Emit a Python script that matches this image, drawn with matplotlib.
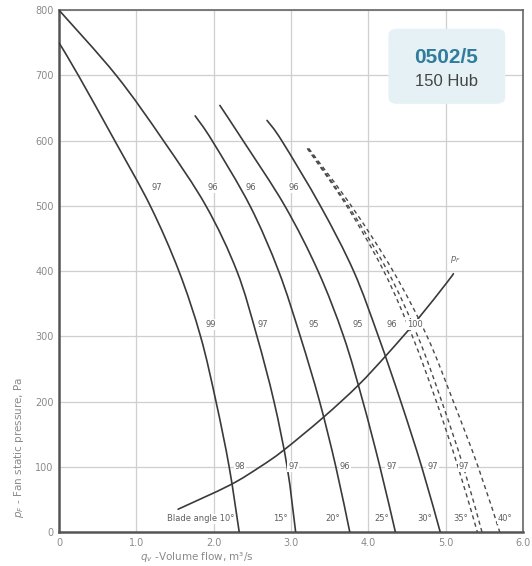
import matplotlib
matplotlib.use("Agg")
import matplotlib.pyplot as plt
from matplotlib.patches import FancyBboxPatch, PathPatch
from matplotlib.path import Path

# ---- data ----
curve_10_q = [0.0, 0.25, 0.72, 1.18, 1.55, 1.83, 2.03, 2.20, 2.33]
curve_10_p = [750, 700, 600, 500, 400, 300, 200, 100, 0]

curve_15_q = [0.0, 0.74, 1.35, 1.90, 2.30, 2.56, 2.78, 2.95, 3.06]
curve_15_p = [800, 700, 600, 500, 400, 300, 200, 100, 0]

curve_20_q = [1.76, 1.98, 2.47, 2.84, 3.12, 3.37, 3.58, 3.76]
curve_20_p = [638, 600, 500, 400, 300, 200, 100, 0]

curve_25_q = [2.08, 2.38, 2.92, 3.35, 3.68, 3.93, 4.15, 4.35]
curve_25_p = [654, 600, 500, 400, 300, 200, 100, 0]

curve_30_q = [2.69, 2.88, 3.38, 3.81, 4.13, 4.42, 4.69, 4.93]
curve_30_p = [631, 600, 500, 400, 300, 200, 100, 0]

dash_a_q = [3.21, 3.72, 4.20, 4.57, 4.88, 5.16, 5.41]
dash_b_q = [3.22, 3.74, 4.25, 4.64, 4.95, 5.23, 5.47]
dash_c_q = [3.23, 3.78, 4.32, 4.76, 5.10, 5.42, 5.70]
dash_p = [588, 500, 400, 300, 200, 100, 0]

pf_q = [1.54, 2.21, 2.60, 2.90, 3.42, 3.87, 4.24, 4.63, 5.02, 5.10]
pf_p = [35, 72, 100, 125, 176, 225, 272, 325, 383, 396]

top_labels = ["97", "96", "96", "96"]
top_q = [1.27, 1.99, 2.48, 3.03]
top_p = 528

mid_labels = ["99", "97", "95", "95", "96", "100"]
mid_q = [1.96, 2.64, 3.29, 3.86, 4.31, 4.60]
mid_p = 318

low_labels = ["98", "97", "96", "97", "97", "97"]
low_q = [2.34, 3.03, 3.70, 4.30, 4.83, 5.24]
low_p = 100

angle_labels = ["15°", "20°", "25°", "30°", "35°", "40°"]
angle_q = [2.86, 3.54, 4.17, 4.73, 5.20, 5.77]
angle_p = 20

xticks = [0, 1, 2, 3, 4, 5, 6]
xtick_labels = ["0", "1.0", "2.0", "3.0", "4.0", "5.0", "6.0"]
yticks = [0, 100, 200, 300, 400, 500, 600, 700, 800]


def smooth_path(xs, ys):
    """Smooth Bezier path passing through the given points (Catmull-Rom)."""
    pts = list(zip(xs, ys))
    n = len(pts)
    verts = [pts[0]]
    codes = [Path.MOVETO]
    for i in range(n - 1):
        p0 = pts[i - 1] if i > 0 else pts[i]
        p1 = pts[i]
        p2 = pts[i + 1]
        p3 = pts[i + 2] if i + 2 < n else pts[i + 1]
        c1 = (p1[0] + (p2[0] - p0[0]) / 6.0, p1[1] + (p2[1] - p0[1]) / 6.0)
        c2 = (p2[0] - (p3[0] - p1[0]) / 6.0, p2[1] - (p3[1] - p1[1]) / 6.0)
        verts += [c1, c2, p2]
        codes += [Path.CURVE4] * 3
    return Path(verts, codes)


# ---- figure ----
fig = plt.figure(figsize=(5.32, 5.66), dpi=100)
ax = fig.add_axes([0.111, 0.060, 0.872, 0.922])
ax.set_xlim(0, 6)
ax.set_ylim(0, 800)

ax.set_xticks(xticks)
ax.set_xticklabels(xtick_labels)
ax.set_yticks(yticks)
ax.tick_params(length=0, labelsize=7, colors="#8a8a8a", pad=4)
ax.grid(True, color="#cfcfcf", lw=0.9)
ax.set_axisbelow(True)

for side in ["left", "bottom"]:
    ax.spines[side].set_linewidth(1.8)
    ax.spines[side].set_color("#555555")
for side in ["top", "right"]:
    ax.spines[side].set_linewidth(1.2)
    ax.spines[side].set_color("#666666")

lc = "#3a3a3a"
for q, p in [(curve_10_q, curve_10_p), (curve_15_q, curve_15_p),
             (curve_20_q, curve_20_p), (curve_25_q, curve_25_p),
             (curve_30_q, curve_30_p), (pf_q, pf_p)]:
    ax.add_patch(PathPatch(smooth_path(q, p), fill=False, ec=lc, lw=1.2,
                           capstyle="round", zorder=3))

for q in [dash_a_q, dash_b_q, dash_c_q]:
    ax.add_patch(PathPatch(smooth_path(q, dash_p), fill=False, ec="#4a4a4a", lw=1.0,
                           ls=(0, (3, 2.5)), zorder=3))

ax.text(5.12, 418, "$p_F$", fontsize=6, color="#666666", ha="center", va="center")

tc = "#606060"
box = dict(boxstyle="square,pad=0.1", fc="white", ec="none")
for lab, q in zip(top_labels, top_q):
    ax.text(q, top_p, lab, fontsize=6, color=tc, ha="center", va="center", bbox=box, zorder=4)
for lab, q in zip(mid_labels, mid_q):
    ax.text(q, mid_p, lab, fontsize=6, color=tc, ha="center", va="center", bbox=box, zorder=4)
for lab, q in zip(low_labels, low_q):
    ax.text(q, low_p, lab, fontsize=6, color=tc, ha="center", va="center", bbox=box, zorder=4)
ax.text(2.27, angle_p, "Blade angle 10°", fontsize=6, color=tc, ha="right", va="center",
        bbox=box, zorder=4)
for lab, q in zip(angle_labels, angle_q):
    ax.text(q, angle_p, lab, fontsize=6, color=tc, ha="center", va="center", bbox=box, zorder=4)

# model box
badge = FancyBboxPatch((4.28, 658), 1.47, 112, boxstyle="round,pad=0.02,rounding_size=0.12",
                       transform=ax.transData, fc="#e6f1f5", ec="none", mutation_aspect=80,
                       zorder=2)
ax.add_patch(badge)
ax.text(5.01, 727, "0502/5", fontsize=15, fontweight="bold", color="#2f7c9c",
        ha="center", va="center", family="Liberation Sans", zorder=4)
ax.text(5.01, 691, "150 Hub", fontsize=12, color="#454545",
        ha="center", va="center", family="Liberation Sans", zorder=4)

fig.text(0.37, 0.016, "$q_v$ -Volume flow, m³/s", fontsize=7.5, color="#8a8a8a",
         ha="center", va="center")
fig.text(0.036, 0.21, "$p_F$ - Fan static pressure, Pa", fontsize=7.5, color="#8a8a8a",
         ha="center", va="center", rotation=90)

fig.savefig("out.png", dpi=100)
